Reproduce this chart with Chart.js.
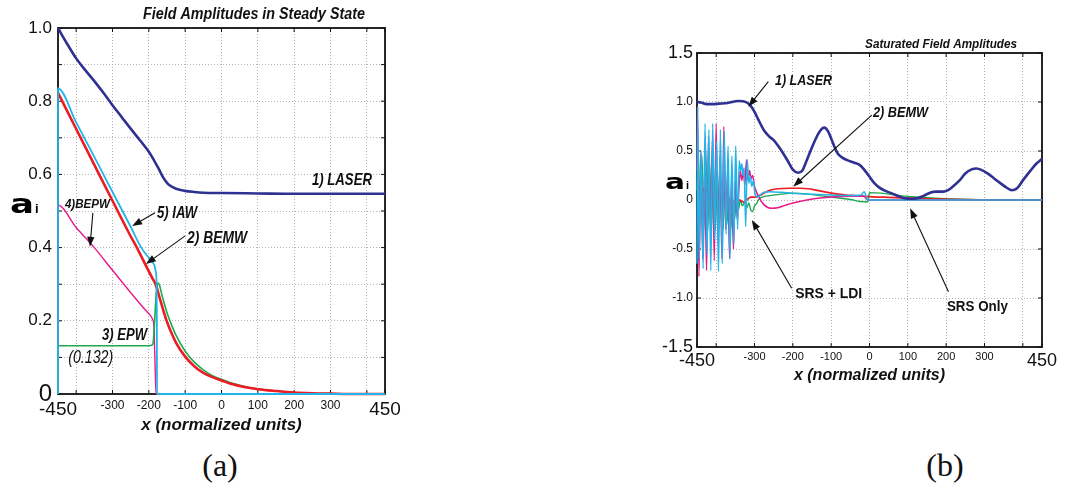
<!DOCTYPE html>
<html>
<head>
<meta charset="utf-8">
<script src="https://cdn.jsdelivr.net/npm/chart.js@4.4.1/dist/chart.umd.min.js"></script>
<style>
  body { margin: 0; background: #fff; width: 1067px; height: 487px; position: relative; overflow: hidden; }
  #wa { position: absolute; left: 0; top: 0; width: 420px; height: 440px; }
  #wb { position: absolute; left: 620px; top: 0; width: 447px; height: 440px; }
  .cap { position: absolute; top: 447px; width: 100px; text-align: center; font: 32px "Liberation Serif", serif; color: #111; }
</style>
</head>
<body>
<div id="wa"><canvas id="chartA" width="420" height="440"></canvas></div>
<div id="wb"><canvas id="chartB" width="447" height="440"></canvas></div>
<div class="cap" style="left:170px">(a)</div>
<div class="cap" style="left:895px">(b)</div>
<script>
// ---- ticks ----
var xTickVals = [-450, -400, -300, -200, -100, 0, 100, 200, 300, 400, 450];
var xTickLabels = ['-450', '', '-300', '-200', '-100', '0', '100', '200', '300', '', '450'];
var yTickValsA = [0, 0.1, 0.2, 0.3, 0.4, 0.5, 0.6, 0.7, 0.8, 0.9, 1.0];
var yTickLabelsA = ['0', '', '0.2', '', '0.4', '', '0.6', '', '0.8', '', '1.0'];
var yTickValsB = [-1.5, -1, -0.5, 0, 0.5, 1, 1.5];
var yTickLabelsB = ['-1.5', '-1.0', '-0.5', '0', '0.5', '1.0', '1.5'];

// ---- (a) steady state, [x, amplitude] ----
var laserA = [[-450,1.0],[-425,0.957],[-400,0.917],[-375,0.885],[-350,0.855],[-325,0.823],[-300,0.789],[-275,0.757],[-250,0.725],[-225,0.694],[-200,0.662],[-190,0.646],[-180,0.628],[-172,0.614],[-162,0.594],[-150,0.577],[-144,0.571],[-125,0.561],[-100,0.555],[-75,0.552],[-50,0.55],[0,0.549],[100,0.548],[200,0.547],[300,0.547],[450,0.547]];
var bemwA = [[-450,0.823],[-400,0.724],[-350,0.626],[-300,0.528],[-250,0.431],[-233,0.4],[-200,0.335],[-190,0.316],[-183,0.303],[-178,0.29],[-170,0.262],[-160,0.228],[-150,0.197],[-140,0.172],[-125,0.14],[-100,0.102],[-75,0.076],[-50,0.058],[-25,0.046],[0,0.037],[25,0.028],[50,0.022],[75,0.017],[100,0.013],[150,0.008],[200,0.004],[250,0.002],[300,0.001],[350,0],[450,0]];
var epwA = [[-450,0],[-450,0.132],[-300,0.132],[-200,0.132],[-192,0.133],[-188,0.14],[-184,0.2],[-180,0.27],[-177,0.298],[-174,0.303],[-170,0.295],[-165,0.275],[-160,0.256],[-150,0.222],[-140,0.195],[-125,0.16],[-100,0.117],[-75,0.087],[-50,0.066],[-25,0.05],[0,0.04],[25,0.031],[50,0.024],[75,0.018],[100,0.014],[150,0.008],[200,0.004],[250,0.002],[300,0.001],[350,0],[450,0]];
var bepwA = [[-450,0],[-450,0.516],[-400,0.455],[-350,0.4],[-300,0.338],[-250,0.277],[-210,0.23],[-197,0.216],[-190,0.205],[-186,0.185],[-184,0.12],[-182,0.05],[-180,0],[450,0]];
var iawA = [[-450,0],[-450,0.835],[-400,0.742],[-350,0.648],[-300,0.552],[-250,0.457],[-221,0.4],[-200,0.372],[-190,0.36],[-184,0.35],[-181,0.335],[-179,0.31],[-178,0.2],[-177.5,0],[450,0]];

// ---- (b) saturated, [x, amplitude] ----
var laserB = [[-450,1.0],[-440,0.995],[-425,0.978],[-410,0.978],[-392,0.983],[-370,0.99],[-342,1.01],[-330,1.008],[-318,0.99],[-308,0.95],[-300,0.9],[-290,0.82],[-275,0.71],[-262,0.65],[-250,0.61],[-238,0.55],[-225,0.475],[-212,0.39],[-200,0.31],[-186,0.278],[-175,0.3],[-167,0.373],[-155,0.49],[-142,0.61],[-130,0.7],[-118,0.739],[-108,0.7],[-100,0.627],[-90,0.53],[-83,0.475],[-70,0.43],[-58,0.407],[-40,0.38],[-25,0.356],[-12,0.3],[0,0.237],[12,0.175],[25,0.129],[40,0.095],[58,0.068],[75,0.04],[92,0.017],[108,0.012],[125,0.017],[140,0.04],[158,0.075],[175,0.085],[192,0.085],[205,0.1],[217,0.136],[235,0.2],[250,0.271],[265,0.31],[279,0.322],[293,0.305],[308,0.271],[325,0.22],[342,0.17],[358,0.125],[371,0.1],[385,0.12],[400,0.2],[420,0.3],[435,0.37],[450,0.42]];
var bemwB = [[-450,0.2],[-445,0.12],[-440,0.14],[-430,0.08],[-420,0.1],[-410,0.04],[-400,0.06],[-390,0.0],[-380,0.03],[-370,-0.02],[-360,0.0],[-350,-0.03],[-340,0.0],[-330,-0.02],[-320,0.0],[-310,0.03],[-300,0.03],[-280,0.06],[-260,0.1],[-240,0.115],[-210,0.12],[-180,0.12],[-160,0.115],[-140,0.1],[-120,0.085],[-100,0.07],[-80,0.06],[-60,0.05],[-40,0.045],[-20,0.04],[0,0.035],[50,0.027],[100,0.02],[150,0.013],[200,0.008],[250,0.004],[300,0.002],[350,0.001],[450,0]];
var epwB = [[-450,0.1],[-447,0.54],[-442,-0.24],[-437,0.45],[-432,-0.3],[-427,0.5],[-422,-0.32],[-417,0.37],[-412,-0.28],[-407,0.35],[-402,-0.3],[-397,0.28],[-392,-0.25],[-387,0.2],[-382,-0.3],[-377,0.12],[-372,-0.25],[-367,0.05],[-362,-0.3],[-357,0.02],[-352,-0.2],[-347,0.05],[-342,-0.1],[-337,0.0],[-332,-0.06],[-325,-0.02],[-320,-0.08],[-315,-0.03],[-310,-0.1],[-305,-0.12],[-300,-0.06],[-295,-0.04],[-290,0.0],[-280,0.03],[-260,0.045],[-230,0.06],[-200,0.07],[-160,0.06],[-120,0.04],[-80,0.02],[-50,0.005],[-25,-0.015],[-5,-0.02],[0,0.075],[30,0.07],[80,0.045],[120,0.03],[170,0.018],[220,0.01],[280,0.004],[350,0.001],[450,0]];
var bepwB = [[-450,0.3],[-449,0.95],[-445,-0.78],[-440,0.48],[-435,-0.6],[-430,0.3],[-425,-0.72],[-420,0.65],[-415,-0.3],[-410,0.6],[-405,-0.62],[-400,0.78],[-395,-0.45],[-390,0.45],[-385,-0.6],[-380,0.75],[-375,-0.3],[-370,0.3],[-365,-0.6],[-360,0.2],[-355,-0.5],[-350,0.2],[-345,-0.2],[-341,0.1],[-337,0.3],[-333,0.2],[-329,0.3],[-325,0.15],[-321,0.41],[-317,0.2],[-313,0.3],[-309,0.22],[-305,0.25],[-300,0.14],[-290,0.04],[-275,-0.05],[-255,-0.085],[-240,-0.08],[-220,-0.055],[-200,-0.03],[-170,-0.005],[-140,0.015],[-100,0.03],[-50,0.038],[-15,0.04],[-8,0.01],[-5,0],[450,0]];
var iawB = [[-450,-0.65],[-448,0.95],[-444,-0.6],[-439,0.5],[-434,-0.7],[-429,0.78],[-424,-0.55],[-419,0.72],[-414,-0.72],[-409,0.78],[-404,-0.4],[-399,0.6],[-394,-0.73],[-389,0.72],[-384,-0.65],[-379,0.7],[-374,-0.35],[-369,0.55],[-364,-0.6],[-359,0.45],[-354,-0.45],[-349,0.55],[-344,-0.3],[-340,0.4],[-336,0.3],[-333,0.37],[-330,0.25],[-327,0.33],[-323,-0.27],[-319,0.41],[-315,0.17],[-311,0.24],[-307,0.14],[-303,0.2],[-299,0.07],[-292,0.03],[-285,0.05],[-275,0.08],[-260,0.085],[-230,0.078],[-200,0.068],[-150,0.058],[-100,0.05],[-50,0.045],[-22,0.05],[-14,0.085],[-8,0.03],[-5,0],[450,0]];

var COL = { laser: '#2E3192', bemw: '#EC1C24', epw: '#1FA84F', bepw: '#E8198B', iaw: '#22B4E8' };
var FAM = '"Liberation Sans Narrow","Liberation Sans",Arial,sans-serif';

function pts(arr) { return arr.map(function (p) { return { x: p[0], y: p[1] }; }); }
function line(label, arr, color, w) {
  return { label: label, data: pts(arr), borderColor: color, borderWidth: w, pointRadius: 0,
           cubicInterpolationMode: 'monotone', clip: false, fill: false };
}

function drawText(ctx, l, x, y) {
  var st = l.st || 'italic bold';
  ctx.save();
  ctx.font = st + ' ' + l.sz + 'px "Liberation Sans",Arial,sans-serif';
  ctx.textBaseline = 'middle';
  ctx.fillStyle = '#111';
  var m = ctx.measureText(l.t).width;
  var sx = l.w ? l.w / m : 1;
  var w = m * sx;
  var left = l.al === 'right' ? x - w : (l.al === 'center' ? x - w / 2 : x);
  ctx.translate(left, y);
  ctx.scale(sx, 1);
  ctx.fillText(l.t, 0, 0);
  ctx.restore();
}

function drawArrow(ctx, x1, y1, x2, y2) {
  var ang = Math.atan2(y2 - y1, x2 - x1), L = 10, H = 3.6;
  ctx.save();
  ctx.strokeStyle = '#111'; ctx.fillStyle = '#111'; ctx.lineWidth = 1.1;
  ctx.beginPath(); ctx.moveTo(x1, y1);
  ctx.lineTo(x2 - Math.cos(ang) * L * 0.8, y2 - Math.sin(ang) * L * 0.8); ctx.stroke();
  ctx.beginPath(); ctx.moveTo(x2, y2);
  ctx.lineTo(x2 - Math.cos(ang) * L + Math.sin(ang) * H, y2 - Math.sin(ang) * L - Math.cos(ang) * H);
  ctx.lineTo(x2 - Math.cos(ang) * L - Math.sin(ang) * H, y2 - Math.sin(ang) * L + Math.cos(ang) * H);
  ctx.closePath(); ctx.fill();
  ctx.restore();
}

// box round the plot with small inward ticks
var framePlugin = {
  id: 'frame',
  beforeDatasetsDraw: function (chart) {
    var ctx = chart.ctx, a = chart.chartArea, sx = chart.scales.x, sy = chart.scales.y;
    ctx.save();
    ctx.strokeStyle = '#111';
    ctx.lineWidth = 1;
    ctx.beginPath();
    sx.ticks.forEach(function (t) {
      var p = sx.getPixelForValue(t.value);
      ctx.moveTo(p, a.top); ctx.lineTo(p, a.top + 4);
      ctx.moveTo(p, a.bottom); ctx.lineTo(p, a.bottom - 4);
    });
    sy.ticks.forEach(function (t) {
      var p = sy.getPixelForValue(t.value);
      ctx.moveTo(a.left, p); ctx.lineTo(a.left + 4, p);
      ctx.moveTo(a.right, p); ctx.lineTo(a.right - 4, p);
    });
    ctx.stroke();
    ctx.lineWidth = 1.8;
    ctx.strokeRect(a.left, a.top, a.right - a.left, a.bottom - a.top);
    ctx.restore();
  }
};

// labels, arrows and the a_i symbol, placed in data units
var notesPlugin = {
  id: 'notes',
  afterDatasetsDraw: function (chart, args, opts) {
    var ctx = chart.ctx, sx = chart.scales.x, sy = chart.scales.y;
    (opts.arrows || []).forEach(function (r) {
      drawArrow(ctx, sx.getPixelForValue(r[0]), sy.getPixelForValue(r[1]),
                     sx.getPixelForValue(r[2]), sy.getPixelForValue(r[3]));
    });
    (opts.labels || []).forEach(function (l) {
      drawText(ctx, l, sx.getPixelForValue(l.x), sy.getPixelForValue(l.y));
    });
    var s = opts.symbol;
    if (s) {
      var px = sx.getPixelForValue(s.x), py = sy.getPixelForValue(s.y);
      ctx.save();
      ctx.fillStyle = '#000';
      ctx.textBaseline = 'alphabetic';
      ctx.font = 'bold ' + s.sz + 'px "DejaVu Sans",sans-serif';
      var m = ctx.measureText('a').width;
      ctx.translate(px, py + s.sz * 0.27);
      ctx.scale(s.w / m, 1);
      ctx.fillText('a', 0, 0);
      ctx.restore();
      ctx.save();
      ctx.fillStyle = '#000';
      ctx.font = 'bold ' + Math.round(s.sz * 0.5) + 'px "Liberation Sans",sans-serif';
      ctx.fillText('i', px + s.w + 1, py + s.sz * 0.27);
      ctx.restore();
    }
  }
};

function makeOptions(cfg) {
  return {
    responsive: false,
    animation: false,
    layout: { padding: cfg.pad },
    plugins: { legend: { display: false }, tooltip: { enabled: false }, notes: cfg.notes },
    scales: {
      x: {
        type: 'linear', min: -450, max: 450,
        afterBuildTicks: function (s) { s.ticks = xTickVals.map(function (v) { return { value: v }; }); },
        afterFit: function (s) { s.height = cfg.xh; },
        grid: { color: '#b4b4b4', drawTicks: false },
        border: { display: false, dash: [1, 2] },
        ticks: {
          autoSkip: false, maxRotation: 0, padding: cfg.xpad, color: '#111',
          font: function (c) {
            var v = c.tick ? c.tick.value : 0;
            return { family: FAM, size: (v === -450 || v === 450) ? cfg.xbig : cfg.xsmall };
          },
          callback: function (v, i) { return xTickLabels[i]; }
        },
        title: {
          display: true, text: 'x (normalized units)', color: '#111',
          font: { family: FAM, size: cfg.tsz, weight: 'bold', style: 'italic' },
          padding: { top: 0, bottom: cfg.tpad }
        }
      },
      y: {
        type: 'linear', min: cfg.ymin, max: cfg.ymax,
        afterBuildTicks: function (s) { s.ticks = cfg.yvals.map(function (v) { return { value: v }; }); },
        afterFit: function (s) { s.width = cfg.yw; },
        grid: { color: '#b4b4b4', drawTicks: false },
        border: { display: false, dash: [1, 2] },
        ticks: {
          padding: cfg.ypad, color: '#111',
          font: function (c) {
            var v = c.tick ? c.tick.value : 0;
            return { family: FAM, size: cfg.ybigAt.indexOf(v) >= 0 ? cfg.ybig : cfg.ysmall };
          },
          callback: function (v, i) { return cfg.ylabels[i]; }
        }
      }
    }
  };
}

new Chart(document.getElementById('chartA'), {
  type: 'line',
  data: {
    datasets: [
      line('5) IAW', iawA, COL.iaw, 1.8),
      line('2) BEMW', bemwA, COL.bemw, 2.6),
      line('3) EPW', epwA, COL.epw, 1.6),
      line('4) BEPW', bepwA, COL.bepw, 1.4),
      line('1) LASER', laserA, COL.laser, 2.6)
    ]
  },
  options: makeOptions({
    pad: { top: 28, right: 35, left: 0, bottom: 0 },
    xh: 46, yw: 58, xpad: 4, ypad: 6, xbig: 19, xsmall: 12, tsz: 17, tpad: 4,
    ymin: 0, ymax: 1, yvals: yTickValsA, ylabels: yTickLabelsA,
    ybigAt: [0], ybig: 24, ysmall: 17,
    notes: {
      labels: [
        { t: 'Field Amplitudes in Steady State', x: 395, y: 1.036, al: 'right', sz: 16, w: 222 },
        { t: '1) LASER', x: 414, y: 0.585, al: 'right', sz: 17, w: 60 },
        { t: '5) IAW', x: -177.5, y: 0.493, sz: 17, w: 40 },
        { t: '2) BEMW', x: -95, y: 0.425, sz: 17, w: 60 },
        { t: '4)BEPW', x: -431, y: 0.516, sz: 12, w: 45 },
        { t: '3) EPW', x: -329, y: 0.161, sz: 17, w: 45 },
        { t: '(0.132)', x: -422, y: 0.098, sz: 18, w: 45, st: 'italic' }
      ],
      arrows: [
        [-183, 0.495, -246, 0.459],
        [-100, 0.432, -208, 0.355],
        [-354, 0.495, -362, 0.402]
      ],
      symbol: { x: -582, y: 0.514, sz: 26, w: 24 }
    }
  }),
  plugins: [framePlugin, notesPlugin]
});

new Chart(document.getElementById('chartB'), {
  type: 'line',
  data: {
    datasets: [
      line('1) LASER', laserB, COL.laser, 2.6),
      line('5) IAW', iawB, COL.iaw, 1.5),
      line('4) BEPW', bepwB, COL.bepw, 1.5),
      line('2) BEMW', bemwB, COL.bemw, 1.7),
      line('3) EPW', epwB, COL.epw, 1.4)
    ]
  },
  options: makeOptions({
    pad: { top: 53, right: 25, left: 0, bottom: 0 },
    xh: 93, yw: 77, xpad: 3, ypad: 4, xbig: 18, xsmall: 11, tsz: 16, tpad: 55,
    ymin: -1.5, ymax: 1.5, yvals: yTickValsB, ylabels: yTickLabelsB,
    ybigAt: [-1.5, 1.5], ybig: 18, ysmall: 12,
    notes: {
      labels: [
        { t: 'Saturated Field Amplitudes', x: 385, y: 1.592, al: 'right', sz: 13, w: 152 },
        { t: '1) LASER', x: -246.5, y: 1.214, sz: 15, w: 57 },
        { t: '2) BEMW', x: 9, y: 0.893, sz: 15, w: 55 },
        { t: 'SRS + LDI', x: -194, y: -0.954, sz: 15, w: 67, st: 'bold' },
        { t: 'SRS Only', x: 202, y: -1.087, sz: 15, w: 61, st: 'bold' }
      ],
      arrows: [
        [-264, 1.207, -316, 0.952],
        [5.8, 0.867, -199, 0.136],
        [-203, -0.90, -307, -0.204],
        [206, -0.936, 106, -0.085]
      ],
      symbol: { x: -533.5, y: 0.173, sz: 22, w: 20 }
    }
  }),
  plugins: [framePlugin, notesPlugin]
});
</script>
</body>
</html>
